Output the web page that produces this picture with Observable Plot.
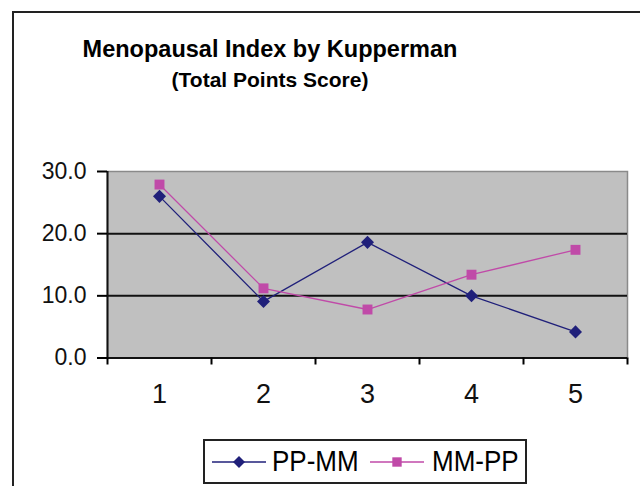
<!DOCTYPE html>
<html><head><meta charset="utf-8">
<script src="https://cdn.jsdelivr.net/npm/d3@7"></script>
<script src="https://cdn.jsdelivr.net/npm/@observablehq/plot@0.6"></script>
<style>
body{margin:0;background:#fff;font-family:"Liberation Sans",Arial,sans-serif;}
#wrap{position:relative;width:640px;height:486px;overflow:hidden;background:#fff;}
#frame{position:absolute;left:12px;top:11px;width:700px;height:600px;border:2px solid #222;box-sizing:border-box;}
.title{position:absolute;left:0;width:540px;text-align:center;font-weight:bold;color:#000;line-height:1;white-space:nowrap;}
#t1{top:38px;font-size:23.5px;}
#t2{top:69px;font-size:21px;}
#chart{position:absolute;left:0;top:150px;}
#legend{position:absolute;left:203px;top:439px;width:324px;height:45px;border:2px solid #222;box-sizing:border-box;background:#fff;}
.sw{position:absolute;top:11px;}
.lt{position:absolute;top:8px;font-size:26px;line-height:1;color:#000;white-space:nowrap;transform:scaleY(1.12);transform-origin:0 22px;}
</style></head>
<body>
<div id="wrap">
  <div id="frame"></div>
  <div class="title" id="t1">Menopausal Index by Kupperman</div>
  <div class="title" id="t2">(Total Points Score)</div>
  <div id="chart"></div>
  <div id="legend"></div>
</div>
<script>
const categories = [1, 2, 3, 4, 5];
const ppmm = [26.0, 9.1, 18.6, 10.0, 4.2];
const mmpp = [27.9, 11.2, 7.8, 13.4, 17.4];
const yTicks = [0, 10, 20, 30];
const gridValues = [10, 20];
const seriesNames = ["PP-MM", "MM-PP"];
const seriesColors = ["#20207A", "#C04AA8"];

const rows = categories.flatMap((c, i) => [
  {cat: c, value: ppmm[i], series: seriesNames[0]},
  {cat: c, value: mmpp[i], series: seriesNames[1]}
]);
const boundaries = categories.map(c => c - 0.5).concat([categories[categories.length - 1] + 0.5]);

const chart = Plot.plot({
  width: 640, height: 270,
  marginLeft: 107, marginRight: 13, marginTop: 21, marginBottom: 62.5,
  style: {fontFamily: "Liberation Sans, Arial, sans-serif", background: "transparent", color: "#000"},
  x: {type: "linear", domain: [boundaries[0], boundaries[boundaries.length - 1]]},
  y: {domain: [yTicks[0], yTicks[yTicks.length - 1]]},
  color: {domain: seriesNames, range: seriesColors},
  marks: [
    Plot.frame({fill: "#C0C0C0", stroke: "#8a8a8a", strokeWidth: 1.5}),
    Plot.ruleY(gridValues, {stroke: "#111", strokeWidth: 2}),
    Plot.ruleY([yTicks[0]], {stroke: "#111", strokeWidth: 2}),
    Plot.ruleX([boundaries[0]], {stroke: "#111", strokeWidth: 2}),
    Plot.axisY(yTicks, {tickSize: 10, tickPadding: 11, tickFormat: d => d.toFixed(1), fontSize: 23, label: null, strokeWidth: 2, fill: "#111"}),
    Plot.axisX(boundaries, {tickSize: 7, tickFormat: () => "", label: null, strokeWidth: 2}),
    Plot.axisX(categories, {tickSize: 0, tickPadding: 25.5, fontSize: 27, label: null, fill: "#111"}),
    Plot.line(rows, {x: "cat", y: "value", z: "series", stroke: "series", strokeWidth: 1.3}),
    Plot.dot(rows.filter(d => d.series === seriesNames[0]), {x: "cat", y: "value", symbol: "square", rotate: 45, r: 5.2, fill: "series"}),
    Plot.dot(rows.filter(d => d.series === seriesNames[1]), {x: "cat", y: "value", symbol: "square", r: 5.6, fill: "series"})
  ]
});
document.getElementById("chart").appendChild(chart);

// legend
const legend = d3.select("#legend");
const swLeft = [7, 165];
const txtLeft = [67, 227];
seriesNames.forEach((name, i) => {
  const svg = legend.append("svg").attr("class", "sw").attr("width", 54).attr("height", 20)
    .style("left", swLeft[i] + "px");
  svg.append("line").attr("x1", 0).attr("x2", 54).attr("y1", 10).attr("y2", 10)
    .attr("stroke", seriesColors[i]).attr("stroke-width", 1.5);
  if (i === 0) {
    svg.append("path").attr("d", d3.symbol(d3.symbolSquare, 72)()).attr("transform", "translate(27,10) rotate(45)").attr("fill", seriesColors[i]);
  } else {
    svg.append("path").attr("d", d3.symbol(d3.symbolSquare, 88)()).attr("transform", "translate(27,10)").attr("fill", seriesColors[i]);
  }
  legend.append("div").attr("class", "lt").style("left", txtLeft[i] + "px").text(name);
});
</script>
</body></html>
